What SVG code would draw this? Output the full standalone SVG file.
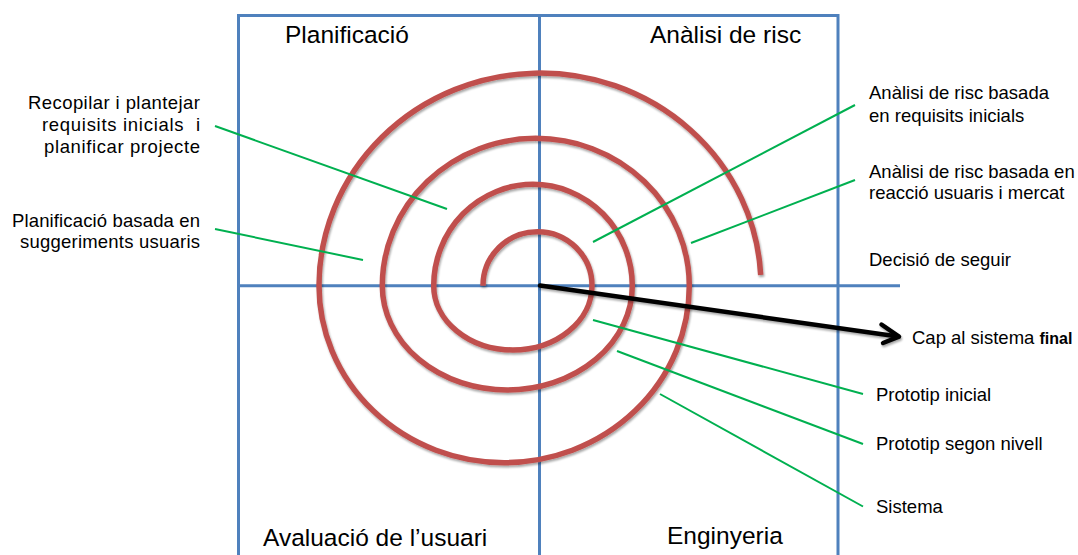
<svg xmlns="http://www.w3.org/2000/svg" width="1078" height="555" viewBox="0 0 1078 555">
<style>
.grid{stroke:#4F81BD;stroke-width:3;fill:none}
.spiral{stroke:#C0504D;stroke-width:5.5;fill:none}
.lead{stroke:#00B050;stroke-width:2;fill:none}
.arrow{stroke:#000;stroke-width:4.5;fill:none;stroke-linecap:round;stroke-linejoin:round}
text{font-family:"Liberation Sans",Arial,sans-serif;fill:#000}
.title{font-size:24.5px}
.lbl{font-size:18.5px}
.r{text-anchor:end}
</style>
<defs>
<filter id="sh" x="-10%" y="-10%" width="120%" height="120%">
<feGaussianBlur in="SourceAlpha" stdDeviation="1.2"/>
<feOffset dx="1" dy="1.5" result="b"/>
<feComponentTransfer><feFuncA type="linear" slope="0.35"/></feComponentTransfer>
<feMerge><feMergeNode/><feMergeNode in="SourceGraphic"/></feMerge>
</filter>
</defs>
<rect width="1078" height="555" fill="#fff"/>
<g id="grid">
<path class="grid" d="M238.5,555 V15.5 H838 V555 M539.5,15.5 V555 M238.5,285.7 H900"/>
</g>
<g id="spiral">
<path class="spiral" filter="url(#sh)" d="M483,285.7 A54.5,54 0 0 1 592,285.7 A79.15,64.3 0 0 1 433.7,285.7 A99.3,101.4 0 0 1 632.3,285.7 A125,104.3 0 0 1 382.3,285.7 A153.5,147.4 0 0 1 689.3,285.7 A185.15,177 0 0 1 319,285.7 A221,213 0 0 1 760.7,275"/>
</g>
<g id="connectors">
<line class="lead" x1="215" y1="126" x2="447" y2="209"/>
<line class="lead" x1="215" y1="229" x2="363" y2="260"/>
<line class="lead" x1="593" y1="242" x2="855" y2="105"/>
<line class="lead" x1="691" y1="243" x2="855" y2="180"/>
<line class="lead" x1="593" y1="320" x2="863" y2="394"/>
<line class="lead" x1="617" y1="351" x2="863" y2="444"/>
<line class="lead" x1="660" y1="394" x2="863" y2="506.5"/>
<g filter="url(#sh)">
<line class="arrow" x1="540" y1="285.5" x2="898" y2="336.5"/>
<polyline class="arrow" points="881.5,324.5 899,336.7 883,343"/>
</g>
</g>
<g id="quadrant-titles">
<text class="title" x="285" y="43">Planificació</text>
<text class="title" x="650" y="43">Anàlisi de risc</text>
<text class="title" x="263" y="546">Avaluació de l’usuari</text>
<text class="title" x="667" y="544">Enginyeria</text>
</g>
<g id="left-labels">
<text class="lbl" x="28" y="109" textLength="172" lengthAdjust="spacing">Recopilar i plantejar</text>
<text class="lbl" x="42" y="131" xml:space="preserve" textLength="158" lengthAdjust="spacing">requisits inicials  i</text>
<text class="lbl" x="44" y="153" textLength="156" lengthAdjust="spacing">planificar projecte</text>
<text class="lbl" x="12" y="226.5" textLength="188" lengthAdjust="spacing">Planificació basada en</text>
<text class="lbl" x="20" y="248" textLength="180" lengthAdjust="spacing">suggeriments usuaris</text>
</g>
<g id="right-labels">
<text class="lbl" x="869" y="99">Anàlisi de risc basada</text>
<text class="lbl" x="869" y="121.5">en requisits inicials</text>
<text class="lbl" x="869" y="177.5">Anàlisi de risc basada en</text>
<text class="lbl" x="869" y="199">reacció usuaris i mercat</text>
<text class="lbl" x="869" y="266">Decisió de seguir</text>
<text class="lbl" x="912" y="344">Cap al sistema <tspan font-weight="bold" font-size="16">final</tspan></text>
<text class="lbl" x="876" y="401">Prototip inicial</text>
<text class="lbl" x="876" y="450">Prototip segon nivell</text>
<text class="lbl" x="876" y="513">Sistema</text>
</g>
</svg>
